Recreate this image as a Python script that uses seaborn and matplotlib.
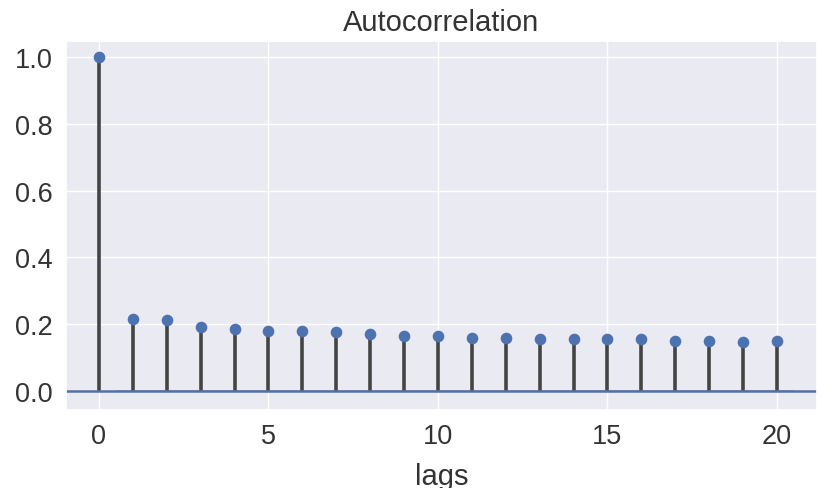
import numpy as np
import pandas as pd
import matplotlib
matplotlib.use("Agg")
import matplotlib.pyplot as plt
import seaborn as sns

lags = list(range(21))
acf_values = [1.0, 0.216, 0.212, 0.191, 0.186, 0.181, 0.181, 0.176, 0.171, 0.165, 0.165,
              0.160, 0.160, 0.155, 0.155, 0.155, 0.155, 0.150, 0.150, 0.146, 0.150]
conf_half = [0.004] * 20
x_ticks = [0, 5, 10, 15, 20]
y_ticks = [0.0, 0.2, 0.4, 0.6, 0.8, 1.0]

sns.set_theme(style="darkgrid")
plt.rcParams['font.family'] = ['Liberation Sans', 'DejaVu Sans']

df = pd.DataFrame({"lag": lags, "acf": acf_values})

fig = plt.figure(figsize=(8.17, 4.89), dpi=100)
ax = fig.add_axes([66 / 817, 1 - 411 / 489, 1 - 66 / 817, (411 - 42) / 489])

blue = sns.color_palette("deep")[0]
ax.vlines(df["lag"], 0, df["acf"], colors="#444444", linewidth=2.6, zorder=2)
ax.axhline(0, color=blue, linewidth=1.8, zorder=2)
band_x = np.arange(1, 21)
ax.fill_between(np.concatenate([[0.5], band_x[1:-1], [20.5]]),
                [-c for c in conf_half], conf_half, color=blue, alpha=0.4, linewidth=0, zorder=2)
sns.scatterplot(data=df, x="lag", y="acf", ax=ax, color=blue, s=70, edgecolor=blue,
                linewidth=0, zorder=3)

ax.set_xlim(-0.97, 21.18)
ax.set_ylim(-0.057, 1.048)
ax.set_xticks(x_ticks)
ax.set_yticks(y_ticks)
ax.set_yticklabels([f"{v:.1f}" for v in y_ticks])
ax.tick_params(labelsize=19.5, colors="#333333")
ax.set_xlabel("lags", fontsize=21, color="#333333", labelpad=9)
ax.set_ylabel("")
ax.set_title("Autocorrelation", fontsize=21, color="#333333", pad=8)

fig.savefig("out.png", dpi=100)
